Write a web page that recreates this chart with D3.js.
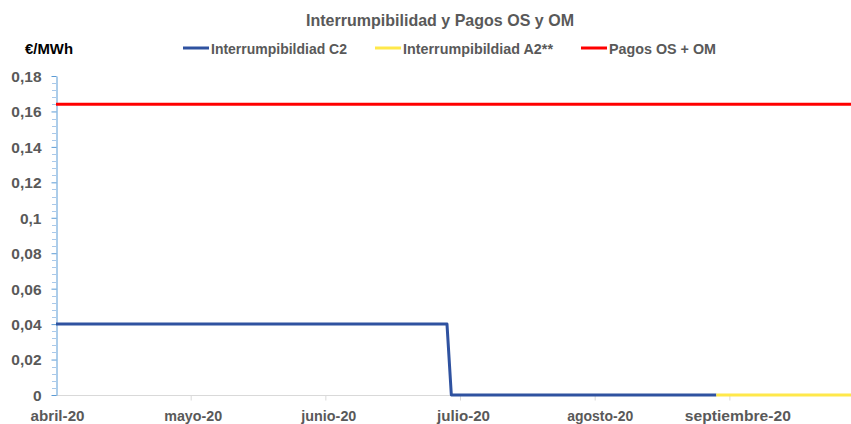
<!DOCTYPE html>
<html>
<head>
<meta charset="utf-8">
<script src="https://cdn.jsdelivr.net/npm/d3@7"></script>
<style>
  html, body { margin: 0; padding: 0; background: #fff; }
  svg { display: block; }
  text { font-family: "Liberation Sans", Arial, sans-serif; font-weight: bold; }
</style>
</head>
<body>
<svg id="chart" width="851" height="424"></svg>
<script>
// ---- Data ----
const title = "Interrumpibilidad y Pagos OS y OM";
const unitLabel = "€/MWh";
const seriesNames = ["Interrumpibildiad C2", "Interrumpibildiad A2**", "Pagos OS + OM"];
const seriesColors = ["#2f52a0", "#ffe84a", "#ff0000"];

const c2Dates = ["2020-04-01", "2020-06-30", "2020-07-01", "2020-08-31"];
const c2Values = [0.04, 0.04, 0, 0];
const a2Dates = ["2020-08-31", "2020-10-01"];
const a2Values = [0, 0];
const osomDates = ["2020-04-01", "2020-10-01"];
const osomValues = [0.164, 0.164];

const xTickDates = ["2020-04-01", "2020-05-02", "2020-06-02", "2020-07-03", "2020-08-03", "2020-09-03"];
const xTickLabels = ["abril-20", "mayo-20", "junio-20", "julio-20", "agosto-20", "septiembre-20"];
const yTicks = [0, 0.02, 0.04, 0.06, 0.08, 0.1, 0.12, 0.14, 0.16, 0.18];
const yTickLabels = ["0", "0,02", "0,04", "0,06", "0,08", "0,1", "0,12", "0,14", "0,16", "0,18"];

// ---- Layout (positions / sizes, not data) ----
const parse = d3.timeParse("%Y-%m-%d");
const svg = d3.select("#chart");
const mLeft = 56, mRight = 851, mTop = 76, mBottom = 395;
const xLabelW = [54, 58, 55, 53, 66, 106];
const xLabelDx = [1, 2, 3, 3, 5, 8];

const x = d3.scaleTime()
  .domain([parse("2020-04-01"), parse("2020-10-01")])
  .range([mLeft, mRight]);
const y = d3.scaleLinear().domain([0, 0.18]).range([mBottom, mTop]);

// Title
svg.append("text")
  .attr("x", 440).attr("y", 26)
  .attr("text-anchor", "middle")
  .attr("font-size", 16.5)
  .attr("fill", "#595959")
  .attr("textLength", 268).attr("lengthAdjust", "spacingAndGlyphs")
  .text(title);

// Unit label
svg.append("text")
  .attr("x", 25).attr("y", 54)
  .attr("font-size", 14.5)
  .attr("fill", "#000")
  .attr("textLength", 48).attr("lengthAdjust", "spacingAndGlyphs")
  .text(unitLabel);

// Legend
const legendX = [183, 375, 581];
const legendW = [136, 150, 107];
seriesNames.forEach((name, i) => {
  const g = svg.append("g").attr("transform", `translate(${legendX[i]},48)`);
  g.append("line").attr("x1", 0).attr("x2", 26).attr("y1", 0).attr("y2", 0)
    .attr("stroke", seriesColors[i]).attr("stroke-width", 3);
  g.append("text").attr("x", 28).attr("y", 5.5)
    .attr("font-size", 14.5).attr("fill", "#595959")
    .attr("textLength", legendW[i]).attr("lengthAdjust", "spacingAndGlyphs")
    .text(name);
});

// X axis (gray line + ticks)
svg.append("line")
  .attr("x1", mLeft).attr("x2", mRight).attr("y1", mBottom + 0.5).attr("y2", mBottom + 0.5)
  .attr("stroke", "#d9d9d9").attr("stroke-width", 1);
const xAxis = d3.axisBottom(x)
  .tickValues(xTickDates.map(parse))
  .tickSize(5).tickSizeOuter(0)
  .tickFormat((d, i) => xTickLabels[i]);
const gx = svg.append("g").attr("transform", `translate(0,${mBottom + 0.5})`).call(xAxis);
gx.select(".domain").remove();
gx.selectAll(".tick line").attr("stroke", "#d9d9d9");
gx.selectAll(".tick").filter((d, i) => i === 0).select("line").remove();
gx.selectAll(".tick text")
  .attr("font-size", 15).attr("fill", "#595959")
  .attr("dy", 0).attr("y", 25)
  .attr("x", (d, i) => xLabelDx[i])
  .attr("textLength", (d, i) => xLabelW[i]).attr("lengthAdjust", "spacingAndGlyphs")
  .attr("font-family", null).attr("font-weight", "bold");

// Y axis minor ticks
const minor = d3.range(0, 0.1801, 0.004).filter(v => Math.abs(Math.round(v / 0.02) * 0.02 - v) > 1e-6);
svg.append("g").selectAll("line").data(minor).join("line")
  .attr("x1", mLeft - 4).attr("x2", mLeft)
  .attr("y1", d => Math.round(y(d)) + 0.5).attr("y2", d => Math.round(y(d)) + 0.5)
  .attr("stroke", "#a9c9ea").attr("stroke-width", 1);

// Y axis
const yAxis = d3.axisLeft(y).tickValues(yTicks).tickSize(5).tickSizeOuter(0)
  .tickFormat((d, i) => yTickLabels[i]);
const gy = svg.append("g").attr("transform", `translate(${mLeft + 0.5},0)`).call(yAxis);
gy.select(".domain").attr("stroke", "#5b9bd5");
gy.selectAll(".tick line").attr("stroke", "#5b9bd5");
gy.selectAll(".tick text")
  .attr("font-size", 15.5).attr("fill", "#595959")
  .attr("x", -15).attr("dy", "0.35em")
  .attr("font-family", null).attr("font-weight", "bold");

// Lines
const line = d3.line().x(d => x(d.date)).y(d => y(d.value));
const mk = (dates, values) => dates.map((d, i) => ({ date: parse(d), value: values[i] }));
const series = [
  { data: mk(c2Dates, c2Values), color: seriesColors[0] },
  { data: mk(osomDates, osomValues), color: seriesColors[2] },
  { data: mk(a2Dates, a2Values), color: seriesColors[1] }
];
svg.append("g").selectAll("path").data(series).join("path")
  .attr("d", d => line(d.data))
  .attr("fill", "none")
  .attr("stroke", d => d.color)
  .attr("stroke-width", 3)
  .attr("stroke-linejoin", "round");
</script>
</body>
</html>
